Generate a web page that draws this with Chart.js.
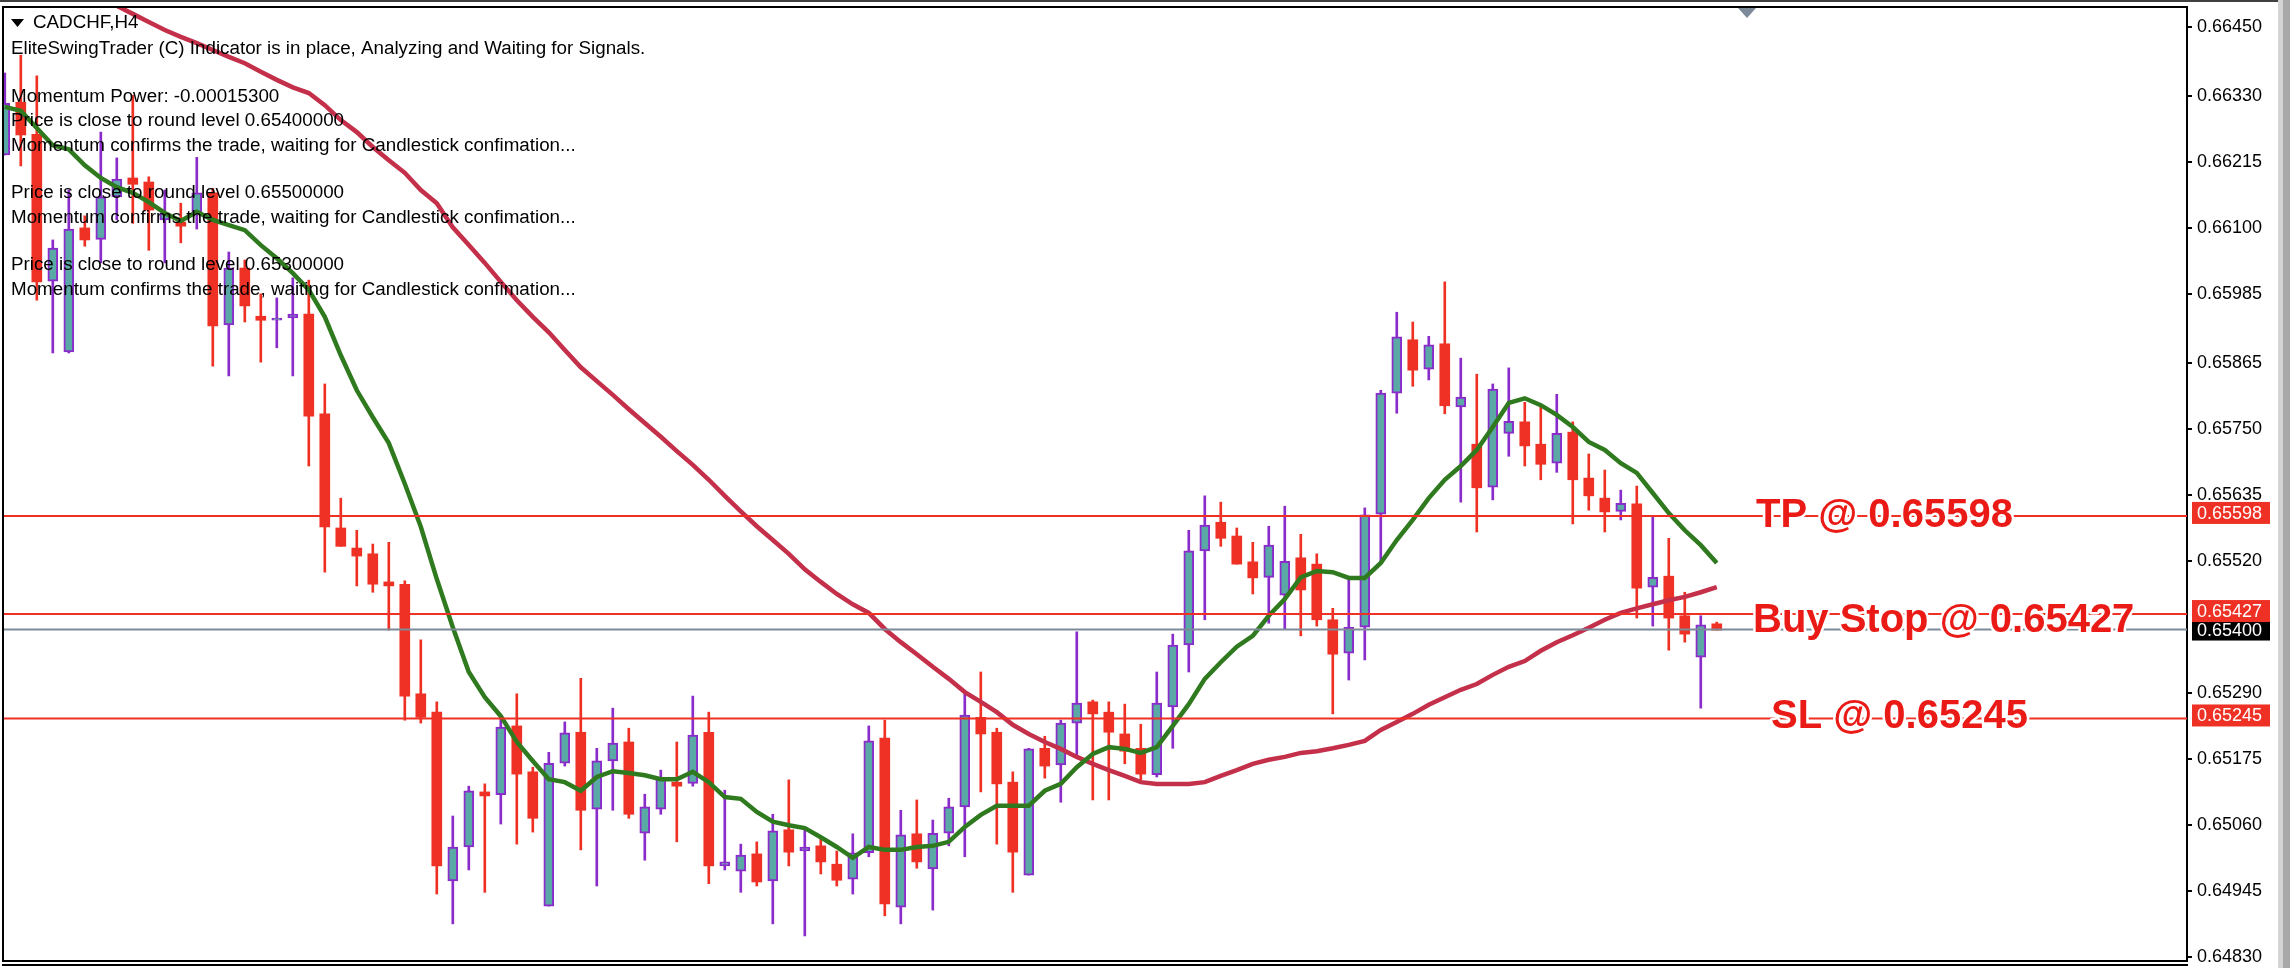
<!DOCTYPE html>
<html>
<head>
<meta charset="utf-8">
<title>CADCHF,H4</title>
<script src="https://cdn.jsdelivr.net/npm/chart.js@4/dist/chart.umd.min.js"></script>
<style>
    body { margin: 0; background: #fff; }
    canvas { display: block; }
</style>
</head>
<body>
<canvas id="chartCanvas" width="2290" height="968"></canvas>
<script>
const symbolLabel = "CADCHF,H4";
const commentLines = [
    ["EliteSwingTrader (C) Indicator is in place, Analyzing and Waiting for Signals.", 49],
    ["Momentum Power: -0.00015300", 97],
    ["Price is close to round level 0.65400000", 121],
    ["Momentum confirms the trade, waiting for Candlestick confimation...", 146],
    ["Price is close to round level 0.65500000", 193],
    ["Momentum confirms the trade, waiting for Candlestick confimation...", 218],
    ["Price is close to round level 0.65300000", 265],
    ["Momentum confirms the trade, waiting for Candlestick confimation...", 290]
];

// prix affichés sur l'axe de droite
const tickValues = [0.66450, 0.66330, 0.66215, 0.66100, 0.65985, 0.65865, 0.65750, 0.65635, 0.65520, 0.65290, 0.65175, 0.65060, 0.64945, 0.64830];

const opens = [0.66227,0.66319,0.66263,0.66007,0.65884,0.66100,0.66080,0.66154,0.66187,0.66180,0.66114,0.66110,0.66126,0.66161,0.65931,0.66030,0.65946,0.65939,0.65943,0.65950,0.65776,0.65577,0.65542,0.65532,0.65483,0.65479,0.65288,0.65256,0.64962,0.65021,0.65117,0.65112,0.65232,0.65152,0.64918,0.65167,0.65221,0.65087,0.65171,0.65204,0.65045,0.65087,0.65134,0.65132,0.65221,0.64988,0.64979,0.65009,0.64962,0.65051,0.65014,0.65023,0.64991,0.64965,0.65011,0.65211,0.64916,0.65044,0.64983,0.65045,0.65091,0.65247,0.65221,0.65134,0.64972,0.65193,0.65164,0.65237,0.65274,0.65256,0.65218,0.65193,0.65147,0.65265,0.65373,0.65537,0.65587,0.65563,0.65518,0.65491,0.65460,0.65525,0.65514,0.65417,0.65359,0.65404,0.65601,0.65812,0.65905,0.65854,0.65898,0.65788,0.65723,0.65648,0.65742,0.65762,0.65723,0.65690,0.65744,0.65664,0.65629,0.65606,0.65619,0.65474,0.65493,0.65424,0.65352,0.65410];
const highs = [0.66370,0.66401,0.66365,0.66079,0.66166,0.66121,0.66267,0.66222,0.66331,0.66189,0.66166,0.66143,0.66223,0.66169,0.66058,0.66044,0.65985,0.65978,0.66013,0.66009,0.65828,0.65629,0.65573,0.65549,0.65552,0.65485,0.65382,0.65274,0.65075,0.65127,0.65131,0.65247,0.65288,0.65160,0.65186,0.65239,0.65315,0.65193,0.65263,0.65228,0.65113,0.65155,0.65204,0.65284,0.65256,0.65120,0.65026,0.65030,0.65078,0.65138,0.65052,0.65035,0.65014,0.65044,0.65232,0.65242,0.65085,0.65103,0.65068,0.65106,0.65288,0.65326,0.65228,0.65152,0.65193,0.65214,0.65242,0.65396,0.65277,0.65274,0.65270,0.65235,0.65326,0.65392,0.65573,0.65633,0.65622,0.65577,0.65552,0.65580,0.65615,0.65566,0.65532,0.65437,0.65490,0.65612,0.65817,0.65953,0.65936,0.65911,0.66006,0.65873,0.65845,0.65828,0.65856,0.65796,0.65788,0.65810,0.65762,0.65706,0.65678,0.65643,0.65650,0.65598,0.65559,0.65465,0.65424,0.65413];
const lows = [0.66227,0.66208,0.65974,0.65882,0.65882,0.66068,0.66039,0.66114,0.66108,0.66061,0.66039,0.66074,0.66098,0.65859,0.65842,0.65936,0.65866,0.65891,0.65842,0.65685,0.65500,0.65545,0.65476,0.65465,0.65399,0.65242,0.65237,0.64939,0.64887,0.64981,0.64942,0.65061,0.65026,0.65047,0.64918,0.65162,0.65016,0.64953,0.65085,0.65071,0.64998,0.65078,0.65030,0.65127,0.64957,0.64981,0.64942,0.64953,0.64887,0.64988,0.64866,0.64974,0.64953,0.64939,0.65004,0.64901,0.64887,0.64984,0.64911,0.65023,0.65004,0.65117,0.65026,0.64942,0.64972,0.65141,0.65099,0.65178,0.65103,0.65103,0.65166,0.65138,0.65143,0.65193,0.65326,0.65417,0.65545,0.65514,0.65462,0.65411,0.65401,0.65389,0.65406,0.65253,0.65312,0.65347,0.65516,0.65777,0.65824,0.65835,0.65776,0.65622,0.65570,0.65626,0.65702,0.65685,0.65661,0.65674,0.65584,0.65608,0.65570,0.65591,0.65420,0.65406,0.65364,0.65378,0.65263,0.65399];
const closes = [0.66317,0.66262,0.66006,0.66065,0.66098,0.66079,0.66154,0.66185,0.66176,0.66131,0.66126,0.66103,0.66161,0.65929,0.66030,0.65964,0.65939,0.65943,0.65950,0.65772,0.65579,0.65545,0.65528,0.65479,0.65476,0.65284,0.65247,0.64988,0.65021,0.65119,0.65110,0.65230,0.65148,0.65071,0.65167,0.65220,0.65085,0.65171,0.65202,0.65078,0.65091,0.65139,0.65127,0.65216,0.64988,0.64995,0.65007,0.64960,0.65049,0.65012,0.65021,0.64995,0.64963,0.65011,0.65206,0.64922,0.65042,0.64995,0.65045,0.65091,0.65251,0.65218,0.65131,0.65012,0.65192,0.65162,0.65237,0.65272,0.65253,0.65221,0.65188,0.65148,0.65272,0.65373,0.65537,0.65582,0.65559,0.65514,0.65490,0.65547,0.65519,0.65469,0.65417,0.65357,0.65404,0.65600,0.65812,0.65910,0.65852,0.65896,0.65790,0.65805,0.65647,0.65819,0.65763,0.65720,0.65688,0.65742,0.65661,0.65633,0.65605,0.65620,0.65472,0.65491,0.65420,0.65392,0.65408,0.65399];

// moyenne rapide (verte)
const fastMa = [0.66311,0.66304,0.66274,0.66244,0.66237,0.66209,0.66187,0.66171,0.66161,0.66145,0.66126,0.66112,0.66128,0.66114,0.66105,0.66096,0.66070,0.66047,0.66021,0.65992,0.65945,0.65878,0.65817,0.65770,0.65725,0.65654,0.65579,0.65488,0.65404,0.65326,0.65282,0.65249,0.65204,0.65171,0.65139,0.65134,0.65119,0.65143,0.65153,0.65150,0.65146,0.65139,0.65139,0.65152,0.65134,0.65108,0.65105,0.65082,0.65065,0.65059,0.65054,0.65038,0.65021,0.65002,0.65021,0.65016,0.65016,0.65021,0.65023,0.65030,0.65056,0.65077,0.65093,0.65093,0.65093,0.65119,0.65131,0.65160,0.65183,0.65195,0.65192,0.65185,0.65195,0.65232,0.65270,0.65314,0.65343,0.65370,0.65389,0.65424,0.65453,0.65491,0.65502,0.65500,0.65490,0.65490,0.65516,0.65556,0.65591,0.65629,0.65661,0.65685,0.65713,0.65753,0.65795,0.65803,0.65791,0.65774,0.65753,0.65727,0.65713,0.65690,0.65673,0.65638,0.65603,0.65573,0.65547,0.65516];
// moyenne lente (rouge), hors cadre pour les premières bougies
const slowMa = [null,null,null,null,null,null,0.66506,0.66487,0.66473,0.66459,0.66445,0.66433,0.66422,0.66410,0.66398,0.66387,0.66372,0.66358,0.66345,0.66335,0.66314,0.66288,0.66267,0.66241,0.66218,0.66196,0.66166,0.66143,0.66101,0.66070,0.66039,0.66006,0.65974,0.65945,0.65918,0.65887,0.65857,0.65833,0.65809,0.65784,0.65760,0.65736,0.65711,0.65687,0.65661,0.65633,0.65606,0.65580,0.65556,0.65532,0.65505,0.65483,0.65462,0.65444,0.65429,0.65401,0.65378,0.65357,0.65335,0.65314,0.65291,0.65274,0.65256,0.65234,0.65218,0.65204,0.65192,0.65178,0.65166,0.65155,0.65145,0.65134,0.65131,0.65131,0.65131,0.65134,0.65145,0.65155,0.65166,0.65173,0.65178,0.65185,0.65188,0.65193,0.65199,0.65206,0.65225,0.65239,0.65253,0.65269,0.65282,0.65295,0.65305,0.65321,0.65335,0.65345,0.65363,0.65378,0.65390,0.65403,0.65417,0.65429,0.65437,0.65444,0.65451,0.65457,0.65465,0.65474];

const levelValues = [0.65598, 0.65427, 0.65245];
const levelNames = ["TP @ 0.65598", "Buy Stop @ 0.65427", "SL @ 0.65245"];
const levelTextX = [1756, 1753, 1771];
const levelTextDy = [11, 18, 10];
const bidPrice = 0.65400;

const COL_BEAR = "#ee3124";
const COL_BULL_FILL = "#5aa9a6";
const COL_BULL_EDGE = "#8a2bcb";
const COL_FAST = "#2f7a1f";
const COL_SLOW = "#c42f4a";
const COL_BID = "#7c8a9a";
const COL_LABEL = "#ea1b17";

const xMin = -0.1125, xMax = 136.39;

function barData(isBull, getRange) {
    const out = [];
    opens.forEach((o, i) => {
        if ((closes[i] >= o) === isBull) out.push({x: i, y: getRange(i)});
    });
    return out;
}

function bodyRange(i) {
    return [Math.min(opens[i], closes[i]), Math.max(opens[i], closes[i])];
}
const wickRange = i => [lows[i], highs[i]];

function lineData(values) {
    const out = [];
    values.forEach((v, i) => { if (v !== null) out.push({x: i, y: v}); });
    return out;
}

function hLine(value, color) {
    return {
        type: "line",
        data: [{x: xMin, y: value}, {x: xMax, y: value}],
        borderColor: color,
        borderWidth: 2,
        pointRadius: 0,
        order: 1
    };
}

function bars(data, thickness, fill, edge, order) {
    return {
        type: "bar",
        data: data,
        grouped: false,
        barThickness: thickness,
        backgroundColor: fill,
        borderColor: edge,
        borderWidth: edge === fill ? 0 : 2,
        borderSkipped: false,
        order: order
    };
}

const screenPlugin = {
    id: "screen",
    beforeDraw(chart) {
        const c = chart.ctx;
        c.save();
        c.fillStyle = "#fff";
        c.fillRect(0, 0, 2290, 968);
        c.fillStyle = "#404040";
        c.fillRect(0, 0, 2278, 2);
        c.fillStyle = "#d4d4d4";
        c.fillRect(2278, 0, 5, 968);
        c.fillStyle = "#a8a8a8";
        c.fillRect(2283, 0, 7, 968);
        c.restore();
    },
    afterDraw(chart) {
        const c = chart.ctx, y = chart.scales.y;
        c.save();

        // cadre
        c.fillStyle = "#000";
        c.fillRect(2, 6, 2186, 2);
        c.fillRect(2, 6, 2, 956);
        c.fillRect(2, 960, 2186, 2);
        c.fillRect(2, 964, 2186, 2);

        // repère de décalage
        c.fillStyle = COL_BID;
        c.beginPath();
        c.moveTo(1738, 8);
        c.lineTo(1756, 8);
        c.lineTo(1747, 18);
        c.closePath();
        c.fill();

        // textes de l'indicateur
        c.fillStyle = "#000";
        c.font = "18.8px 'Liberation Sans'";
        c.textBaseline = "middle";
        c.fillText(symbolLabel, 33, 23);
        commentLines.forEach(l => c.fillText(l[0], 11, l[1]));
        c.beginPath();
        c.moveTo(11, 19);
        c.lineTo(24, 19);
        c.lineTo(17.5, 27);
        c.closePath();
        c.fill();

        // étiquettes de prix
        c.font = "18px 'Liberation Sans'";
        const tag = (value, bg, top, h) => {
            const py = y.getPixelForValue(value);
            c.fillStyle = bg;
            c.fillRect(2192, py + top, 78, h);
            c.fillStyle = "#fff";
            c.fillText(value.toFixed(5), 2197, py + top + h / 2 + 1);
        };
        tag(bidPrice, "#000", -10, 21);
        levelValues.forEach(v => tag(v, COL_BEAR, -14, 22));

        // grandes étiquettes TP / Buy Stop / SL
        c.font = "bold 40px 'Liberation Sans'";
        c.textBaseline = "alphabetic";
        c.lineJoin = "round";
        levelNames.forEach((name, k) => {
            const by = y.getPixelForValue(levelValues[k]) + levelTextDy[k];
            c.strokeStyle = "#fff";
            c.lineWidth = 5;
            c.strokeText(name, levelTextX[k], by);
            c.fillStyle = COL_LABEL;
            c.fillText(name, levelTextX[k], by);
        });
        c.restore();
    }
};

new Chart(document.getElementById("chartCanvas").getContext("2d"), {
    type: "bar",
    data: {
        datasets: [
            hLine(levelValues[0], COL_BEAR),
            hLine(levelValues[1], COL_BEAR),
            hLine(levelValues[2], COL_BEAR),
            hLine(bidPrice, COL_BID),
            {type: "line", data: lineData(fastMa), borderColor: COL_FAST, borderWidth: 4.5, pointRadius: 0, order: 2},
            {type: "line", data: lineData(slowMa), borderColor: COL_SLOW, borderWidth: 4.5, pointRadius: 0, order: 3},
            bars(barData(true, bodyRange), 10, COL_BULL_FILL, COL_BULL_EDGE, 4),
            bars(barData(false, bodyRange), 10, COL_BEAR, COL_BEAR, 5),
            bars(barData(true, wickRange), 2, COL_BULL_EDGE, COL_BULL_EDGE, 6),
            bars(barData(false, wickRange), 2, COL_BEAR, COL_BEAR, 7)
        ]
    },
    options: {
        responsive: false,
        animation: false,
        devicePixelRatio: 1,
        layout: {autoPadding: false, padding: {left: 3, top: 7, bottom: 7, right: 0}},
        plugins: {legend: {display: false}, tooltip: {enabled: false}},
        scales: {
            x: {type: "linear", min: xMin, max: xMax, offset: false, display: false},
            y: {
                position: "right",
                min: 0.648223,
                max: 0.66485,
                afterFit(scale) {
                    scale.width = 103;
                    // pas de marge pour les libellés extrêmes : l'axe doit remplir le cadre
                    scale.paddingTop = 0;
                    scale.paddingBottom = 0;
                },
                afterBuildTicks(scale) { scale.ticks = tickValues.map(v => ({value: v})); },
                border: {display: true, color: "#000", width: 2},
                grid: {drawOnChartArea: false, drawTicks: true, tickLength: 5, color: "#000", lineWidth: 2},
                ticks: {
                    color: "#000",
                    padding: 5,
                    font: {family: "'Liberation Sans'", size: 18},
                    autoSkip: false,
                    maxRotation: 0,
                    callback: v => v.toFixed(5)
                }
            }
        }
    },
    plugins: [screenPlugin]
});
</script>
</body>
</html>
